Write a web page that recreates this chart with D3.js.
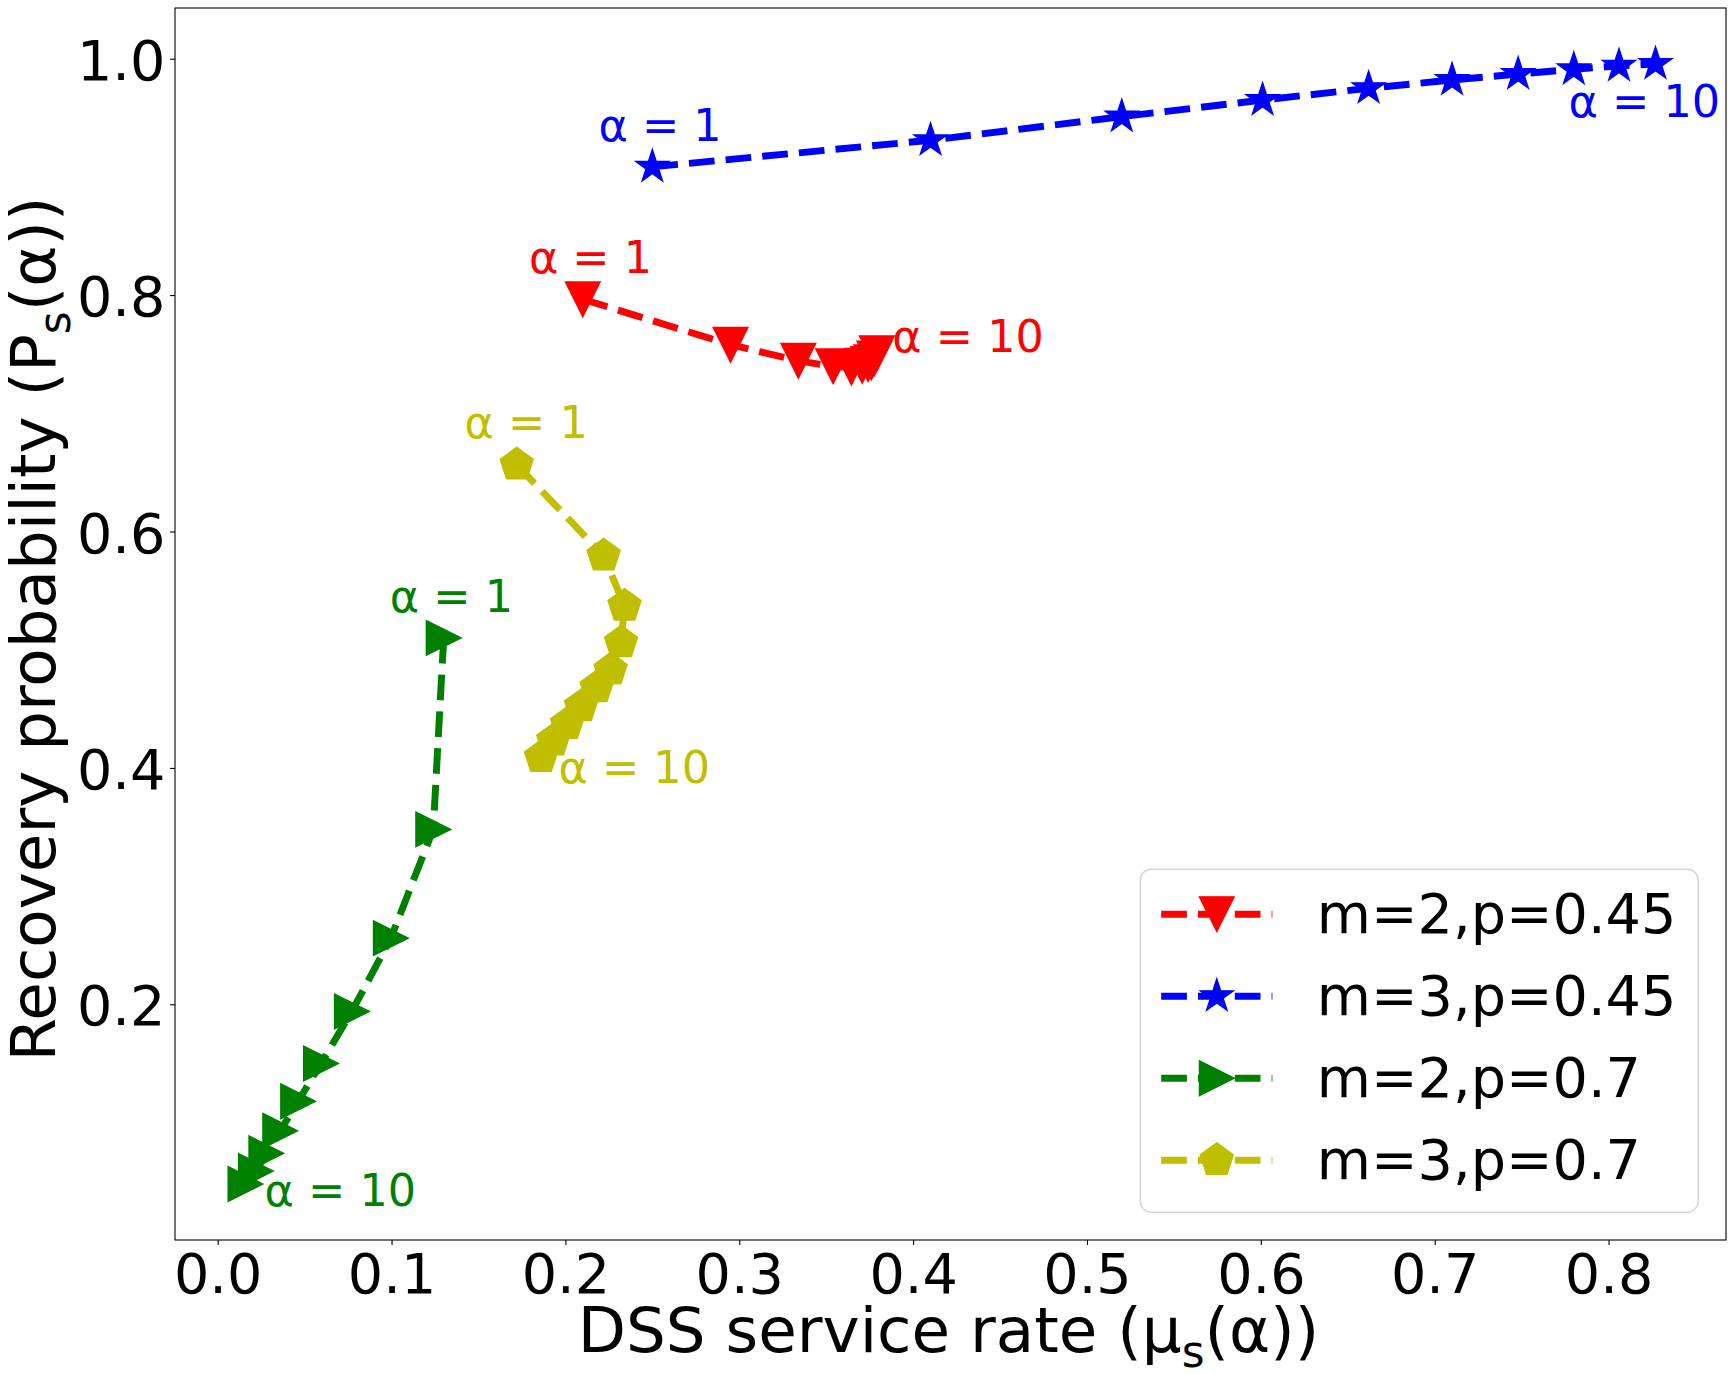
<!DOCTYPE html>
<html>

<head>
    <meta charset="utf-8">
    <style>
        body {
            margin: 0;
            background: #fff;
        }

        svg {
            display: block;
            font-family: "DejaVu Sans", sans-serif;
        }

        .axis .domain {
            display: none;
        }

        .axis .tick line {
            stroke: #000;
            stroke-width: 1.1;
        }

        .axis .tick text {
            font-family: "DejaVu Sans", sans-serif;
            font-size: 55.6px;
            fill: #000;
        }
    </style>
</head>

<body>
    <svg width="1734" height="1374"></svg>

    <script src="https://cdn.jsdelivr.net/npm/d3@7"></script>

    <script>

        // legend order of the four curves
        let labels = ["m=2,p=0.45", "m=3,p=0.45", "m=2,p=0.7", "m=3,p=0.7"]
        let colors = ["#ff0000", "#0000ff", "#008000", "#bfbf00"]
        let markers = ["v", "*", ">", "p"]

        // alpha = 1 ... 10
        let redX = [0.210, 0.295, 0.334, 0.354, 0.3645, 0.3707, 0.3741, 0.376, 0.3777, 0.3791]
        let redY = [0.7965, 0.758, 0.7444, 0.7397, 0.7387, 0.7402, 0.7417, 0.7432, 0.7464, 0.7508]

        let blueX = [0.250, 0.410, 0.520, 0.601, 0.662, 0.710, 0.748, 0.780, 0.806, 0.827]
        let blueY = [0.9085, 0.931, 0.951, 0.965, 0.975, 0.982, 0.987, 0.991, 0.994, 0.9955]

        let greenX = [0.130, 0.124, 0.0996, 0.0772, 0.0594, 0.0463, 0.036, 0.028, 0.022, 0.016]
        let greenY = [0.510, 0.348, 0.256, 0.194, 0.150, 0.118, 0.093, 0.074, 0.059, 0.048]

        let yellowX = [0.172, 0.222, 0.234, 0.232, 0.226, 0.218, 0.209, 0.201, 0.193, 0.186]
        let yellowY = [0.6565, 0.5795, 0.537, 0.506, 0.483, 0.468, 0.452, 0.437, 0.423, 0.409]

        let xTicks = [0, 0.1, 0.2, 0.3, 0.4, 0.5, 0.6, 0.7, 0.8]
        let yTicks = [0.2, 0.4, 0.6, 0.8, 1.0]

        // annotation texts and where they sit (data units, like xytext)
        let noteText = ["α = 1", "α = 10"]
        let redNotes = [[0.179, 0.819], [0.388, 0.752]]
        let blueNotes = [[0.219, 0.930], [0.777, 0.951]]
        let greenNotes = [[0.099, 0.532], [0.027, 0.029]]
        let yellowNotes = [[0.142, 0.679], [0.196, 0.387]]

        let xTitle = ["DSS service rate (μ", "s", "(α))"]
        let yTitle = ["Recovery probability (P", "s", "(α))"]


        let series = [
            { x: redX, y: redY, notes: redNotes },
            { x: blueX, y: blueY, notes: blueNotes },
            { x: greenX, y: greenY, notes: greenNotes },
            { x: yellowX, y: yellowY, notes: yellowNotes }
        ]
        series.forEach(function (s, i) {
            s.label = labels[i]
            s.color = colors[i]
            s.marker = markers[i]
            s.points = d3.zip(s.x, s.y)
        })

        let svg = d3.select("svg")

        // plot box in pixels
        let boxLeft = 175, boxRight = 1726, boxTop = 8, boxBottom = 1240

        // limits like matplotlib: data extent plus 5% each side
        function padded(values) {
            let ext = d3.extent(values)
            let m = (ext[1] - ext[0]) * 0.05
            return [ext[0] - m, ext[1] + m]
        }

        let x = d3.scaleLinear()
            .domain(padded(d3.merge(series.map(s => s.x))))
            .range([boxLeft, boxRight])

        let y = d3.scaleLinear()
            .domain(padded(d3.merge(series.map(s => s.y))))
            .range([boxBottom, boxTop])


        let xAxis = svg.append("g")
            .attr("class", "x axis")
            .attr("transform", `translate(0,${boxBottom})`)
            .call(d3.axisBottom(x)
                .tickValues(xTicks)
                .tickFormat(d3.format(".1f"))
                .tickSize(4.9)
                .tickPadding(8.3))

        let yAxis = svg.append("g")
            .attr("class", "y axis")
            .attr("transform", `translate(${boxLeft},0)`)
            .call(d3.axisLeft(y)
                .tickValues(yTicks)
                .tickFormat(d3.format(".1f"))
                .tickSize(4.9)
                .tickPadding(4.8))

        yAxis.selectAll(".tick text").attr("dy", "0.37em")


        // matplotlib style marker shapes, centred on 0,0
        function markerPath(type, size) {
            let h = size / 2
            let pts = []
            if (type == "v") {
                pts = [[0, h], [-h, -h], [h, -h]]
            } else if (type == ">") {
                pts = [[h, 0], [-h, -h], [-h, h]]
            } else if (type == "p") {
                for (let k = 0; k < 5; k++) {
                    let a = -Math.PI / 2 + k * 2 * Math.PI / 5
                    pts.push([h * Math.cos(a), h * Math.sin(a)])
                }
            } else if (type == "*") {
                for (let k = 0; k < 10; k++) {
                    let a = -Math.PI / 2 + k * Math.PI / 5
                    let r = k % 2 == 0 ? h : h * 0.381966
                    pts.push([r * Math.cos(a), r * Math.sin(a)])
                }
            }
            return "M" + pts.map(p => p[0].toFixed(2) + "," + p[1].toFixed(2)).join("L") + "Z"
        }

        let markerSize = 34.7
        let lineWidth = 6.94
        let dash = "25.7,11.1"

        let line = d3.line()
            .x(d => x(d[0]))
            .y(d => y(d[1]))

        let plot = svg.append("g")

        series.forEach(function (s) {
            let g = plot.append("g")

            g.append("path")
                .datum(s.points)
                .attr("d", line)
                .style("fill", "none")
                .style("stroke", s.color)
                .style("stroke-width", lineWidth)
                .style("stroke-dasharray", dash)
                .style("stroke-linejoin", "round")

            g.selectAll(".marker")
                .data(s.points)
                .join("path")
                .attr("class", "marker")
                .attr("transform", d => `translate(${x(d[0])},${y(d[1])})`)
                .attr("d", markerPath(s.marker, markerSize))
                .style("fill", s.color)
                .style("stroke", s.color)
                .style("stroke-width", 1.39)
                .style("stroke-linejoin", "miter")
        })

        // alpha = 1 / alpha = 10 notes
        series.forEach(function (s) {
            plot.selectAll(null)
                .data(s.notes)
                .join("text")
                .attr("x", d => x(d[0]))
                .attr("y", d => y(d[1]))
                .style("font-size", "44.5px")
                .style("fill", s.color)
                .text((d, i) => noteText[i])
        })

        // frame
        svg.append("rect")
            .attr("x", boxLeft)
            .attr("y", boxTop)
            .attr("width", boxRight - boxLeft)
            .attr("height", boxBottom - boxTop)
            .style("fill", "none")
            .style("stroke", "#000")
            .style("stroke-width", 1.1)


        // legend, lower right
        let fs = 55.6
        let legW = 558, legH = 343
        let legX = boxRight - fs * 0.5 - legW
        let legY = boxBottom - fs * 0.5 - legH

        let legend = svg.append("g")
            .attr("transform", `translate(${legX},${legY})`)

        legend.append("rect")
            .attr("width", legW)
            .attr("height", legH)
            .attr("rx", 11)
            .style("fill", "rgba(255,255,255,0.8)")
            .style("stroke", "rgba(204,204,204,0.8)")
            .style("stroke-width", 1.4)

        let rows = legend.selectAll(".row")
            .data(series)
            .join("g")
            .attr("class", "row")
            .attr("transform", (d, i) => `translate(0,${45 + i * 82})`)

        rows.append("line")
            .attr("x1", 21)
            .attr("x2", 21 + 2 * fs)
            .style("stroke", d => d.color)
            .style("stroke-width", lineWidth)
            .style("stroke-dasharray", dash)

        rows.append("path")
            .attr("transform", `translate(${21 + fs},0)`)
            .attr("d", d => markerPath(d.marker, markerSize))
            .style("fill", d => d.color)
            .style("stroke", d => d.color)
            .style("stroke-width", 1.39)

        rows.append("text")
            .attr("x", 21 + 2 * fs + 0.8 * fs)
            .attr("y", 19)
            .style("font-size", fs + "px")
            .style("fill", "#000")
            .text(d => d.label)


        // axis titles with subscript s
        function title(sel, parts) {
            sel.append("tspan").text(parts[0])
            sel.append("tspan").attr("dy", 15).style("font-size", "0.7em").text(parts[1])
            sel.append("tspan").attr("dy", -15).text(parts[2])
        }

        let xLabel = svg.append("text")
            .attr("x", (boxLeft + boxRight) / 2 - 2)
            .attr("y", 1352)
            .style("text-anchor", "middle")
            .style("font-size", "62.7px")
            .style("fill", "#000")
        title(xLabel, xTitle)

        let yLabel = svg.append("text")
            .attr("transform", `translate(55,${(boxTop + boxBottom) / 2 + 5}) rotate(-90)`)
            .style("text-anchor", "middle")
            .style("font-size", "62.7px")
            .style("fill", "#000")
        title(yLabel, yTitle)

    </script>
</body>

</html>
